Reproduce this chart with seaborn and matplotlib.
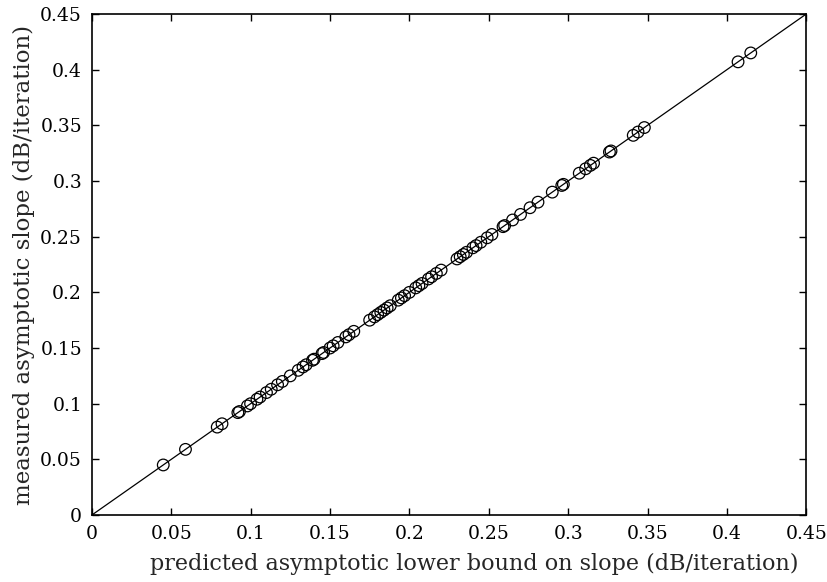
import numpy as np
import pandas as pd
import seaborn as sns
import matplotlib
matplotlib.use("Agg")
import matplotlib.pyplot as plt

# predicted lower bound on slope vs measured slope (dB/iteration)
predicted = [0.045, 0.059, 0.079, 0.082, 0.092, 0.093, 0.098, 0.100, 0.104, 0.106,
             0.110, 0.113, 0.117, 0.120, 0.125, 0.130, 0.133, 0.135, 0.139, 0.140,
             0.145, 0.146, 0.150, 0.152, 0.155, 0.160, 0.162, 0.165, 0.175, 0.178,
             0.180, 0.182, 0.184, 0.186, 0.188, 0.193, 0.195, 0.197, 0.200, 0.204,
             0.206, 0.208, 0.212, 0.214, 0.217, 0.220, 0.230, 0.232, 0.234, 0.236,
             0.240, 0.242, 0.245, 0.249, 0.252, 0.259, 0.260, 0.265, 0.270, 0.276,
             0.281, 0.290, 0.296, 0.297, 0.307, 0.311, 0.314, 0.316, 0.326, 0.327,
             0.341, 0.344, 0.348, 0.407, 0.415]
measured = [0.045, 0.059, 0.079, 0.082, 0.092, 0.093, 0.098, 0.100, 0.104, 0.106,
            0.110, 0.113, 0.117, 0.120, 0.125, 0.130, 0.133, 0.135, 0.139, 0.140,
            0.145, 0.146, 0.150, 0.152, 0.155, 0.160, 0.162, 0.165, 0.175, 0.178,
            0.180, 0.182, 0.184, 0.186, 0.188, 0.193, 0.195, 0.197, 0.200, 0.204,
            0.206, 0.208, 0.212, 0.214, 0.217, 0.220, 0.230, 0.232, 0.234, 0.236,
            0.240, 0.242, 0.245, 0.249, 0.252, 0.259, 0.260, 0.265, 0.270, 0.276,
            0.281, 0.290, 0.296, 0.297, 0.307, 0.311, 0.314, 0.316, 0.326, 0.327,
            0.341, 0.344, 0.348, 0.407, 0.415]
line_ends = [0, 0.45]
ticks = [0, 0.05, 0.1, 0.15, 0.2, 0.25, 0.3, 0.35, 0.4, 0.45]
tick_labels = ["0", "0.05", "0.1", "0.15", "0.2", "0.25", "0.3", "0.35", "0.4", "0.45"]

sns.set_style("ticks")
plt.rcParams['font.family'] = ['DejaVu Serif']

df = pd.DataFrame({"predicted": predicted, "measured": measured})

fig = plt.figure(figsize=(8.27, 5.82), dpi=100)
ax = fig.add_axes([0.111, 0.115, 0.864, 0.861])

sns.lineplot(x=line_ends, y=line_ends, color="black", linewidth=0.9, ax=ax)
sns.scatterplot(data=df, x="predicted", y="measured", marker="o", s=70,
                facecolor="none", edgecolor="black", linewidth=0.9, ax=ax)

ax.set_xlim(0, 0.45)
ax.set_ylim(0, 0.45)
ax.set_xticks(ticks)
ax.set_xticklabels(tick_labels)
ax.set_yticks(ticks)
ax.set_yticklabels(tick_labels)
ax.tick_params(direction="in", top=True, right=True, length=5, width=1,
               labelsize=13.5, colors="black", pad=7)
for s in ax.spines.values():
    s.set_visible(True)
    s.set_linewidth(1.2)
    s.set_color("black")
ax.set_xlabel("predicted asymptotic lower bound on slope (dB/iteration)", fontsize=16,
              labelpad=7, x=0.535)
ax.set_ylabel("measured asymptotic slope (dB/iteration)", fontsize=16.5, labelpad=4)

fig.savefig("out.png", dpi=100)
